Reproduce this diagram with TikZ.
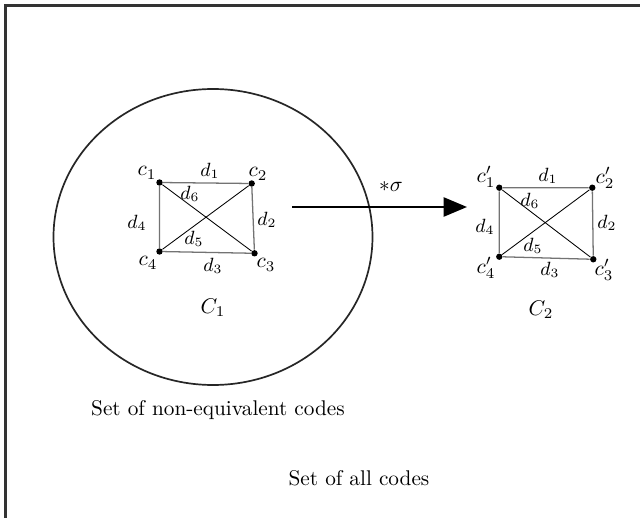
\documentclass[tikz,border=0pt]{standalone}
\usetikzlibrary{arrows.meta,shapes.geometric}
\begin{document}
\begin{tikzpicture}[x=0.47pt,y=-0.47pt,
  dot/.style={circle,fill=black,inner sep=0pt,minimum size=3pt},
  side/.style={draw=black!55,line width=0.6pt},
  diag/.style={draw=black,line width=0.4pt},
  dlab/.style={font=\small,inner sep=0pt},
  clab/.style={inner sep=0pt},
  frame/.style={draw=black!80,line width=1pt}]
\useasboundingbox (0,0) rectangle (640,518);
\begin{scope}
\clip (0,0) rectangle (640,518);
\draw[frame] (5.5,5.5) rectangle (660,540);
\end{scope}
\node[draw=black!85,line width=0.8pt,ellipse,minimum width=319*0.47pt,minimum height=296*0.47pt,inner sep=0pt] (E) at (213,237) {};
% left graph
\node[dot] (a1) at (159.5,182.5) {};
\node[dot] (a2) at (251.7,183.5) {};
\node[dot] (a3) at (254.5,253.3) {};
\node[dot] (a4) at (159.5,251.5) {};
\draw[side] (a1) -- (a2) -- (a3) -- (a4) -- (a1);
\draw[diag] (a1) -- (a3);
\draw[diag] (a2) -- (a4);
\node[clab] (lc1) at (147,173) {$c_1$};
\node[clab] (lc2) at (258,174) {$c_2$};
\node[clab] (lc3) at (266,265) {$c_3$};
\node[clab] (lc4) at (148,263) {$c_4$};
\node[dlab] (ld1) at (210,171) {$d_1$};
\node[dlab] (ld6) at (190,194) {$d_6$};
\node[dlab] (ld4) at (137,223) {$d_4$};
\node[dlab] (ld2) at (267,220) {$d_2$};
\node[dlab] (ld5) at (194,239) {$d_5$};
\node[dlab] (ld3) at (213,266) {$d_3$};
\node[clab] (C1) at (213,308) {$C_1$};
% arrow
\coordinate (s) at (292,207);
\coordinate (t) at (467,207);
\draw[line width=1pt,-{Triangle[length=11pt,width=9pt]}] (s) -- (t);
\node[clab] (sig) at (391,187) {$*\sigma$};
% right graph
\node[dot] (b1) at (499.3,187.7) {};
\node[dot] (b2) at (592.3,187.7) {};
\node[dot] (b3) at (593.3,259.3) {};
\node[dot] (b4) at (499.3,256.7) {};
\draw[side] (b1) -- (b2) -- (b3) -- (b4) -- (b1);
\draw[diag] (b1) -- (b3);
\draw[diag] (b2) -- (b4);
\node[clab] (rc1) at (486,177) {$c_1'$};
\node[clab] (rc2) at (605,178) {$c_2'$};
\node[clab] (rc3) at (604,270) {$c_3'$};
\node[clab] (rc4) at (486,268) {$c_4'$};
\node[dlab] (rd1) at (548,176) {$d_1$};
\node[dlab] (rd6) at (530,201) {$d_6$};
\node[dlab] (rd4) at (485,227) {$d_4$};
\node[dlab] (rd2) at (607,223) {$d_2$};
\node[dlab] (rd5) at (533,246) {$d_5$};
\node[dlab] (rd3) at (550,270) {$d_3$};
\node[clab] (C2) at (541,310) {$C_2$};
\node[clab] (t1) at (218,410) {Set of non-equivalent codes};
\node[clab] (t2) at (359,478) {Set of all codes};
\end{tikzpicture}
\end{document}
